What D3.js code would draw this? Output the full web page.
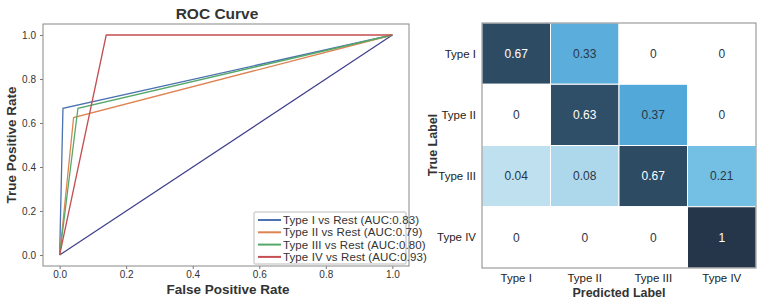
<!DOCTYPE html>
<html>
<head>
<meta charset="utf-8">
<script src="https://cdn.jsdelivr.net/npm/d3@7"></script>
<style>
body{margin:0;background:#fff}
text{font-family:"Liberation Sans",Arial,sans-serif}
</style>
</head>
<body>
<div id="chart"></div>
<script>
// ROC curves, one per class (one-vs-rest)
var rocNames = ["Type I vs Rest (AUC:0.83)", "Type II vs Rest (AUC:0.79)", "Type III vs Rest (AUC:0.80)", "Type IV vs Rest (AUC:0.93)"]
var rocFpr = [[0, 0.01, 1], [0, 0.042, 1], [0, 0.055, 1], [0, 0.14, 1]]
var rocTpr = [[0, 0.667, 1], [0, 0.625, 1], [0, 0.667, 1], [0, 1, 1]]
var chanceLine = [[0, 0], [1, 1]]
var rocTicks = [0, 0.2, 0.4, 0.6, 0.8, 1.0]

// confusion matrix (row = true, col = predicted)
var classes = ["Type I", "Type II", "Type III", "Type IV"]
var matrix = [
	[0.67, 0.33, 0, 0],
	[0, 0.63, 0.37, 0],
	[0.04, 0.08, 0.67, 0.21],
	[0, 0, 0, 1]
]

var rocColors = ["#4c72b0", "#dd8452", "#55a868", "#c44e52"]
var W = 761, H = 301

var svg = d3.select("#chart").append("svg").attr("width", W).attr("height", H)
svg.append("rect").attr("width", W).attr("height", H).attr("fill", "#fff")

// ---------- ROC panel ----------
var x = d3.scaleLinear().domain([-0.05, 1.05]).range([43, 409])
var y = d3.scaleLinear().domain([-0.05, 1.05]).range([266, 24])
var roc = svg.append("g")

roc.append("g").attr("transform", "translate(0,266)")
	.call(d3.axisBottom(x).tickValues(rocTicks).tickFormat(d3.format(".1f")).tickSize(3).tickPadding(2))
	.call(styleAxis)
roc.append("g").attr("transform", "translate(43,0)")
	.call(d3.axisLeft(y).tickValues(rocTicks).tickFormat(d3.format(".1f")).tickSize(3).tickPadding(4))
	.call(styleAxis)

function styleAxis(g) {
	g.select(".domain").remove()
	g.selectAll(".tick line").attr("stroke", "#777")
	g.selectAll(".tick text").attr("fill", "#333").style("font-size", "10px")
}

var line = d3.line().x(function(d){ return x(d[0]) }).y(function(d){ return y(d[1]) })
roc.append("path").datum(chanceLine).attr("d", line)
	.attr("fill", "none").attr("stroke", "#3d3d8c").attr("stroke-width", 1.2)
rocNames.forEach(function(name, i){
	var pts = rocFpr[i].map(function(f, j){ return [f, rocTpr[i][j]] })
	roc.append("path").datum(pts).attr("d", line)
		.attr("fill", "none").attr("stroke", rocColors[i]).attr("stroke-width", 1.3)
})

roc.append("rect").attr("x", 43).attr("y", 24).attr("width", 366).attr("height", 242)
	.attr("fill", "none").attr("stroke", "#888").attr("stroke-width", 1)

// legend
var leg = roc.append("g").attr("transform", "translate(254,212)")
leg.append("rect").attr("width", 152).attr("height", 52).attr("rx", 1)
	.attr("fill", "#fff").attr("stroke", "#bbb")
rocNames.forEach(function(name, i){
	var r = leg.append("g").attr("transform", "translate(0," + (8 + i * 12.3) + ")")
	r.append("line").attr("x1", 4).attr("x2", 27).attr("stroke", rocColors[i]).attr("stroke-width", 2)
	r.append("text").attr("x", 29).attr("dy", "0.35em").attr("fill", "#333")
		.style("font-size", "11.5px").style("letter-spacing", "0.1px").text(name)
})

roc.append("text").attr("x", 217).attr("y", 19).attr("text-anchor", "middle")
	.style("font-size", "15.5px").style("font-weight", "bold").attr("fill", "#333").text("ROC Curve")
roc.append("text").attr("x", 228).attr("y", 294).attr("text-anchor", "middle")
	.style("font-size", "13.5px").style("font-weight", "bold").attr("fill", "#333").text("False Positive Rate")
roc.append("text").attr("transform", "translate(16,145) rotate(-90)").attr("text-anchor", "middle")
	.style("font-size", "13.5px").style("font-weight", "bold").attr("fill", "#333").text("True Positive Rate")

// ---------- confusion matrix ----------
var cx = d3.scaleBand().domain(classes).range([482, 756])
var cy = d3.scaleBand().domain(classes).range([23, 268])
var color = d3.scaleLinear()
	.domain([0, 0.04, 0.21, 0.37, 0.63, 1])
	.range(["#ffffff", "#bee0ef", "#74c0e4", "#52a8d9", "#2f4e67", "#26364a"])
	.clamp(true)

var cm = svg.append("g")
var cells = []
matrix.forEach(function(row, i){
	row.forEach(function(v, j){ cells.push({r: classes[i], c: classes[j], v: v}) })
})
cm.selectAll("rect.cell").data(cells).enter().append("rect").attr("class", "cell")
	.attr("x", function(d){ return cx(d.c) }).attr("y", function(d){ return cy(d.r) })
	.attr("width", cx.bandwidth()).attr("height", cy.bandwidth())
	.attr("fill", function(d){ return color(d.v) })
	.attr("stroke", "#fff").attr("stroke-width", 1)
cm.selectAll("text.val").data(cells).enter().append("text").attr("class", "val")
	.attr("x", function(d){ return cx(d.c) + cx.bandwidth() / 2 })
	.attr("y", function(d){ return cy(d.r) + cy.bandwidth() / 2 })
	.attr("dy", "0.35em").attr("text-anchor", "middle")
	.style("font-size", "12px")
	.attr("fill", function(d){ return d.v > 0.5 ? "#fff" : "#2a3645" })
	.text(function(d){ return d.v })

cm.append("rect").attr("x", 482).attr("y", 23).attr("width", 274).attr("height", 245)
	.attr("fill", "none").attr("stroke", "#888").attr("stroke-width", 1)

cm.selectAll("text.rowlab").data(classes).enter().append("text").attr("class", "rowlab")
	.attr("x", 476).attr("y", function(d){ return cy(d) + cy.bandwidth() / 2 })
	.attr("dy", "0.35em").attr("text-anchor", "end").style("font-size", "11.5px").attr("fill", "#222")
	.text(function(d){ return d })
cm.selectAll("text.collab").data(classes).enter().append("text").attr("class", "collab")
	.attr("x", function(d){ return cx(d) + cx.bandwidth() / 2 }).attr("y", 282)
	.attr("text-anchor", "middle").style("font-size", "11.5px").attr("fill", "#222")
	.text(function(d){ return d })
cm.append("text").attr("x", 619).attr("y", 297).attr("text-anchor", "middle")
	.style("font-size", "12.5px").style("font-weight", "bold").attr("fill", "#333").text("Predicted Label")
cm.append("text").attr("transform", "translate(437,145) rotate(-90)").attr("text-anchor", "middle")
	.style("font-size", "12.5px").style("font-weight", "bold").attr("fill", "#333").text("True Label")
</script>
</body>
</html>
